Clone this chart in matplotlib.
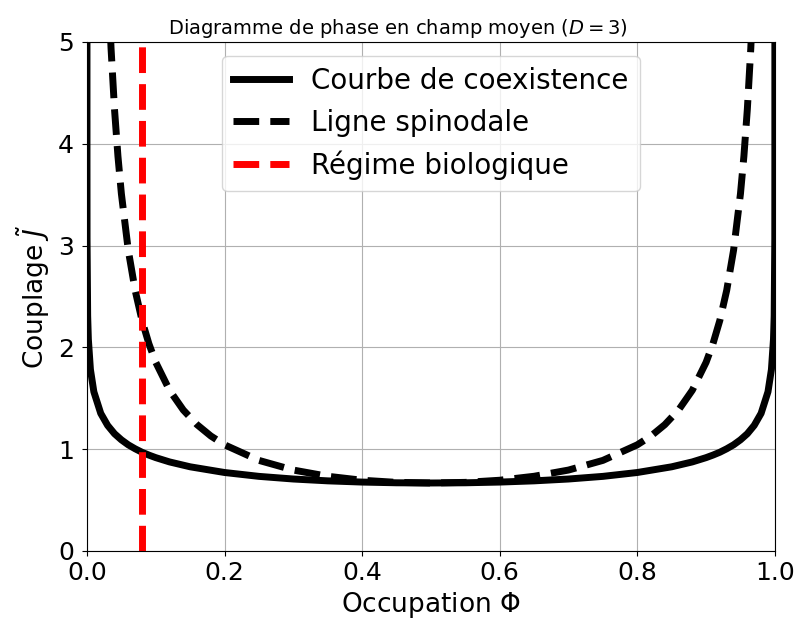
import matplotlib
matplotlib.use("Agg")
import matplotlib.pyplot as plt

# Courbe de coexistence
phi_coex = [1e-7, 1e-6, 1e-5, 1e-4, 0.001, 0.002, 0.005, 0.01, 0.02, 0.03, 0.04, 0.05,
            0.06, 0.07, 0.08, 0.09, 0.10, 0.12, 0.15, 0.20, 0.25, 0.30, 0.35, 0.40, 0.45,
            0.50, 0.55, 0.60, 0.65, 0.70, 0.75, 0.80, 0.85, 0.88, 0.90, 0.91, 0.92, 0.93,
            0.94, 0.95, 0.96, 0.97, 0.98, 0.99, 0.995, 0.998, 0.999, 0.9999, 0.99999,
            0.999999, 0.9999999]
J_coex = [5.37, 4.605, 3.838, 3.070, 2.307, 2.079, 1.782, 1.563, 1.351, 1.233, 1.151, 1.091,
          1.042, 1.003, 0.969, 0.941, 0.916, 0.874, 0.826, 0.770, 0.732, 0.706, 0.688, 0.676, 0.669,
          0.667, 0.669, 0.676, 0.688, 0.706, 0.732, 0.770, 0.826, 0.874, 0.916, 0.941, 0.969, 1.003,
          1.042, 1.091, 1.151, 1.233, 1.351, 1.563, 1.782, 2.079, 2.307, 3.070, 3.838,
          4.605, 5.37]

# Ligne spinodale
phi_spin = [0.03, 0.035, 0.04, 0.045, 0.05, 0.06, 0.07, 0.08, 0.09, 0.10, 0.12, 0.14, 0.16,
            0.18, 0.20, 0.25, 0.30, 0.35, 0.40, 0.45, 0.50, 0.55, 0.60, 0.65, 0.70, 0.75,
            0.80, 0.82, 0.84, 0.86, 0.88, 0.90, 0.91, 0.92, 0.93, 0.94, 0.95, 0.955, 0.96,
            0.965, 0.97]
J_spin = [5.727, 4.935, 4.340, 3.878, 3.509, 2.955, 2.560, 2.264, 2.035, 1.852, 1.578, 1.384,
          1.240, 1.129, 1.042, 0.889, 0.794, 0.733, 0.694, 0.673, 0.667, 0.673, 0.694, 0.733,
          0.794, 0.889, 1.042, 1.129, 1.240, 1.384, 1.578, 1.852, 2.035, 2.264, 2.560, 2.955,
          3.509, 3.878, 4.340, 4.935, 5.727]

# Régime biologique
phi_bio = 0.08

fig, ax = plt.subplots(figsize=(7.98, 6.26), dpi=100)
fig.subplots_adjust(left=0.109, right=0.971, top=0.933, bottom=0.120)

ax.plot(phi_coex, J_coex, color='black', lw=5, label='Courbe de coexistence')
ax.plot(phi_spin, J_spin, color='black', lw=5, ls='--', label='Ligne spinodale')
ax.axvline(phi_bio, color='red', lw=5, ls='--', label='Régime biologique')

ax.set_xlim(0, 1)
ax.set_ylim(0, 5)
ax.set_xticks([0.0, 0.2, 0.4, 0.6, 0.8, 1.0])
ax.set_yticks([0, 1, 2, 3, 4, 5])
ax.tick_params(labelsize=18)
ax.tick_params(axis='y', pad=6)
ax.grid(True)
ax.set_xlabel('Occupation $\\Phi$', fontsize=19)
ax.set_ylabel('Couplage $\\tilde{J}$', fontsize=19)
ax.set_title('Diagramme de phase en champ moyen ($D=3$)', fontsize=14, x=0.452)
ax.legend(fontsize=20, loc='upper center')

plt.savefig('out.png')
